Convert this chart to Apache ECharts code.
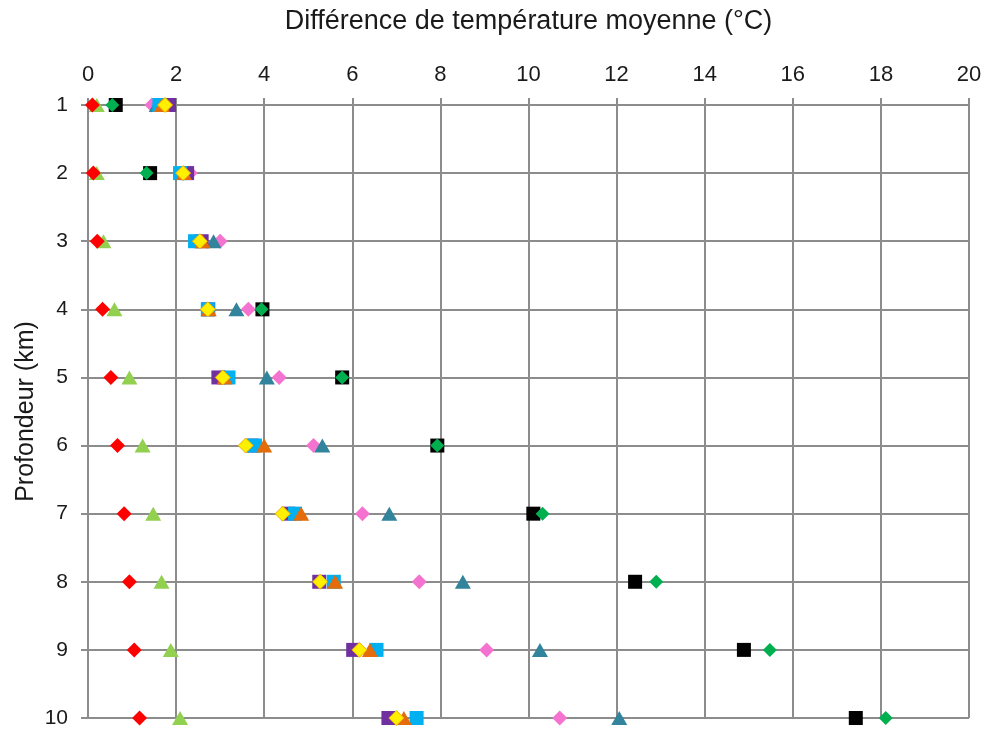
<!DOCTYPE html>
<html>
<head>
<meta charset="utf-8">
<script src="https://cdn.jsdelivr.net/npm/echarts@6/dist/echarts.min.js"></script>
<style>
html,body{margin:0;padding:0;background:#fff;}
#chart{width:989px;height:732px;}
</style>
</head>
<body>
<div id="chart"></div>
<script>
// Depths (km)
var depths = [1, 2, 3, 4, 5, 6, 7, 8, 9, 10];
var xTicks = [0, 2, 4, 6, 8, 10, 12, 14, 16, 18, 20];

// Mean temperature difference (°C) per series, one value per depth
var lightGreenTri = [0.2, 0.2, 0.35, 0.6, 0.94, 1.24, 1.48, 1.67, 1.88, 2.09];
var redDiamond    = [0.1, 0.12, 0.21, 0.33, 0.52, 0.67, 0.82, 0.94, 1.05, 1.17];
var pinkDiamond   = [1.45, 2.32, 3.0, 3.64, 4.34, 5.12, 6.23, 7.52, 9.05, 10.71];
var tealTri       = [1.56, 2.15, 2.85, 3.37, 4.06, 5.32, 6.84, 8.51, 10.26, 12.06];
var purpleSquare  = [1.84, 2.25, 2.58, 2.73, 2.96, 3.72, 4.55, 5.25, 6.02, 6.82];
var blueSquare    = [1.62, 2.09, 2.43, 2.72, 3.19, 3.79, 4.7, 5.58, 6.55, 7.46];
var orangeTri     = [1.68, 2.18, 2.6, 2.74, 3.1, 4.0, 4.84, 5.61, 6.4, 7.17];
var yellowDiamond = [1.75, 2.16, 2.54, 2.72, 3.06, 3.58, 4.42, 5.27, 6.16, 7.0];
var blackSquare   = [0.63, 1.41, null, 3.96, 5.77, 7.93, 10.11, 12.42, 14.89, 17.43];
var greenDiamond  = [0.55, 1.33, null, 3.94, 5.77, 7.93, 10.32, 12.9, 15.48, 18.11];

function pairs(vals) {
  var out = [];
  for (var i = 0; i < vals.length; i++) {
    if (vals[i] !== null) out.push([vals[i], depths[i]]);
  }
  return out;
}

var triangle = 'path://M0,-10L11.5,10L-11.5,10Z';

function sc(name, vals, symbol, color, size, border) {
  var st = {color: color, opacity: 1};
  if (border) { st.borderColor = border; st.borderWidth = 1; }
  return {
    name: name, type: 'scatter', data: pairs(vals),
    symbol: symbol, symbolSize: size, color: color,
    itemStyle: st,
    emphasis: {disabled: true}, silent: true
  };
}

var chart = echarts.init(document.getElementById('chart'), null, {renderer: 'canvas'});
var font = 'Liberation Sans, Arial, sans-serif';
chart.setOption({
  animation: false,
  backgroundColor: '#ffffff',
  grid: {left: 88, right: 20, top: 105, bottom: 14, containLabel: false},
  xAxis: {
    type: 'value', position: 'top', min: 0, max: 20, interval: 2,
    name: 'Différence de température moyenne (°C)',
    nameLocation: 'middle', nameGap: 70,
    nameTextStyle: {fontFamily: font, fontSize: 27, color: '#1a1a1a'},
    axisLine: {show: true, lineStyle: {color: '#8c8c8c', width: 2}},
    axisTick: {show: true, length: 7, lineStyle: {color: '#8c8c8c', width: 2}},
    axisLabel: {fontFamily: font, fontSize: 22, color: '#1a1a1a', margin: 19,
      formatter: function (v) { return xTicks.indexOf(v) >= 0 ? String(v) : ''; }},
    splitLine: {show: true, lineStyle: {color: '#8c8c8c', width: 2}}
  },
  yAxis: {
    type: 'value', inverse: true, min: 1, max: 10, interval: 1,
    name: 'Profondeur (km)', nameLocation: 'middle', nameGap: 49, nameRotate: 90,
    nameMoveOverlap: false,
    nameTextStyle: {fontFamily: font, fontSize: 25, color: '#1a1a1a'},
    axisLine: {show: true, lineStyle: {color: '#8c8c8c', width: 2}},
    axisTick: {show: true, length: 7, lineStyle: {color: '#8c8c8c', width: 2}},
    axisLabel: {fontFamily: font, fontSize: 21, color: '#1a1a1a', margin: 20},
    splitLine: {show: true, lineStyle: {color: '#8c8c8c', width: 2}}
  },
  series: [
    sc('A', lightGreenTri, triangle, '#92D050', [16, 14]),
    sc('B', redDiamond, 'diamond', '#FF0000', 15),
    sc('C', pinkDiamond, 'diamond', '#F573D0', 15),
    sc('D', tealTri, triangle, '#31849B', [16, 14]),
    sc('E', purpleSquare, 'rect', '#7030A0', 14),
    sc('F', blueSquare, 'rect', '#00B0F0', 14),
    sc('G', orangeTri, triangle, '#E46C0A', [16, 14]),
    sc('H', yellowDiamond, 'diamond', '#FFF000', 15, '#F0B000'),
    sc('I', blackSquare, 'rect', '#000000', 14),
    sc('J', greenDiamond, 'diamond', '#00B050', 14)
  ]
});
</script>
</body>
</html>
